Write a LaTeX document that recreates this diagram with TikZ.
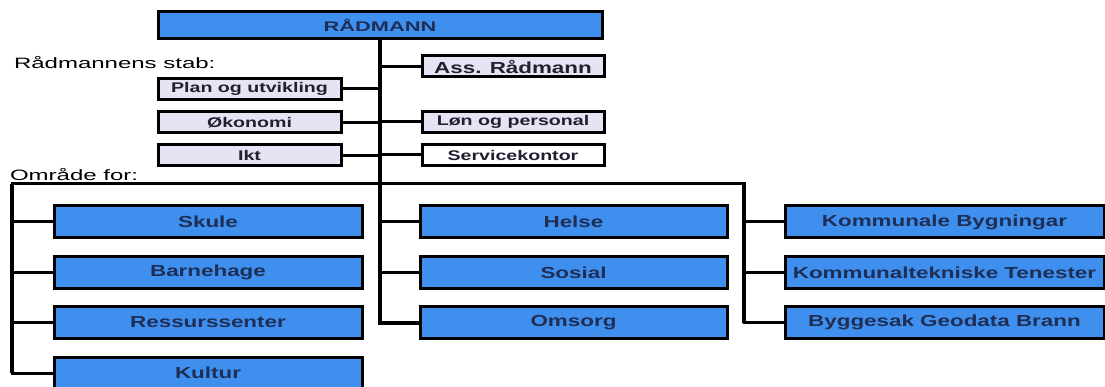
\documentclass[tikz,border=0pt]{standalone}
\usepackage{fontspec}
\setmainfont{Liberation Sans}
\usepackage{graphicx}
\definecolor{boxblue}{HTML}{3F8FEF}
\definecolor{navy}{HTML}{1E2E55}
\definecolor{lav}{HTML}{E4E4F4}
\definecolor{darktxt}{HTML}{202030}
\newcommand{\sx}[2]{\scalebox{#1}[1]{#2}}
\begin{document}
\begin{tikzpicture}[x=1pt,y=-1pt,
  every node/.style={inner sep=0pt, outer sep=0pt},
  bluebox/.style={draw=black, line width=3pt, fill=boxblue, text=navy,
    font=\bfseries\fontsize{16}{18}\selectfont, minimum height=32},
  stabbox/.style={draw=black, line width=3pt, fill=lav, text=darktxt,
    font=\bfseries\fontsize{14}{16}\selectfont, minimum width=183, minimum height=21},
  plainlbl/.style={anchor=west, text=black, font=\fontsize{15}{17}\selectfont},
  conn/.style={draw=black, line width=3pt},
  trunk/.style={draw=black, line width=4pt}]
\useasboundingbox (0,0) rectangle (1105,387);
\clip (0,0) rectangle (1105,387);

% top
\node[bluebox, minimum width=444, minimum height=27, font=\bfseries\fontsize{14}{16}\selectfont] (rad) at (380,25.5) {\sx{1.56}{RÅDMANN}};

% labels
\node[plainlbl] (stab) at (14,63) {\sx{1.6}{Rådmannens stab:}};
\node[plainlbl] (omr) at (10,175) {\sx{1.6}{Område for:}};

% staff boxes
\node[stabbox] (plan) at (249.5,89) {\sx{1.4}{Plan og utvikling}};
\node[stabbox] (oko) at (249.5,122.5) {\sx{1.4}{Økonomi}};
\node[stabbox] (ikt) at (249.5,155.5) {\sx{1.4}{Ikt}};
\node[stabbox, minimum width=182, font=\bfseries\fontsize{16}{18}\selectfont] (ass) at (513,66.5) {\sx{1.4}{Ass. Rådmann}};
\node[stabbox, minimum width=182] (lon) at (513,122) {\sx{1.4}{Løn og personal}};
\node[stabbox, minimum width=182, fill=white] (serv) at (513,155) {\sx{1.4}{Servicekontor}};

% area boxes
\node[bluebox, minimum width=308] (skule) at (208,222) {\sx{1.4}{Skule}};
\node[bluebox, minimum width=308] (barn) at (208,272.5) {\sx{1.4}{Barnehage}};
\node[bluebox, minimum width=308] (ress) at (208,322.5) {\sx{1.4}{Ressurssenter}};
\node[bluebox, minimum width=308] (kult) at (208,373) {\sx{1.4}{Kultur}};

\node[bluebox, minimum width=307] (helse) at (573.5,222) {\sx{1.4}{Helse}};
\node[bluebox, minimum width=307] (sos) at (573.5,272.5) {\sx{1.4}{Sosial}};
\node[bluebox, minimum width=307] (oms) at (573.5,322.5) {\sx{1.4}{Omsorg}};

\node[bluebox, minimum width=319] (kb) at (944.5,222) {\sx{1.4}{Kommunale Bygningar}};
\node[bluebox, minimum width=319] (kt) at (944.5,272.5) {\sx{1.4}{Kommunaltekniske Tenester}};
\node[bluebox, minimum width=319] (bg) at (944.5,322.5) {\sx{1.4}{Byggesak Geodata Brann}};

\coordinate (hl) at (12,184);
\coordinate (hr) at (744,184);

% main trunk
\draw[trunk] (rad.south) |- (oms.west);
% staff connectors
\draw[conn] (ass.west) -- (ass.west -| rad.south);
\draw[conn] (plan.east) -- (plan.east -| rad.south);
\draw[conn] (oko.east) -- (oko.east -| rad.south);
\draw[conn] (ikt.east) -- (ikt.east -| rad.south);
\draw[conn] (lon.west) -- (lon.west -| rad.south);
\draw[conn] (serv.west) -- (serv.west -| rad.south);
% area bar
\draw[conn] (kult.west) -| (hl) -- (hr) |- (bg.west);
\draw[trunk] (kult.west -| hl) -- (hl);
\draw[trunk] (hr) -- (bg.west -| hr);
\draw[conn] (skule.west) -- (skule.west -| hl);
\draw[conn] (barn.west) -- (barn.west -| hl);
\draw[conn] (ress.west) -- (ress.west -| hl);
\draw[conn] (helse.west) -- (helse.west -| rad.south);
\draw[conn] (sos.west) -- (sos.west -| rad.south);
\draw[conn] (kb.west) -- (kb.west -| hr);
\draw[conn] (kt.west) -- (kt.west -| hr);
\end{tikzpicture}
\end{document}
